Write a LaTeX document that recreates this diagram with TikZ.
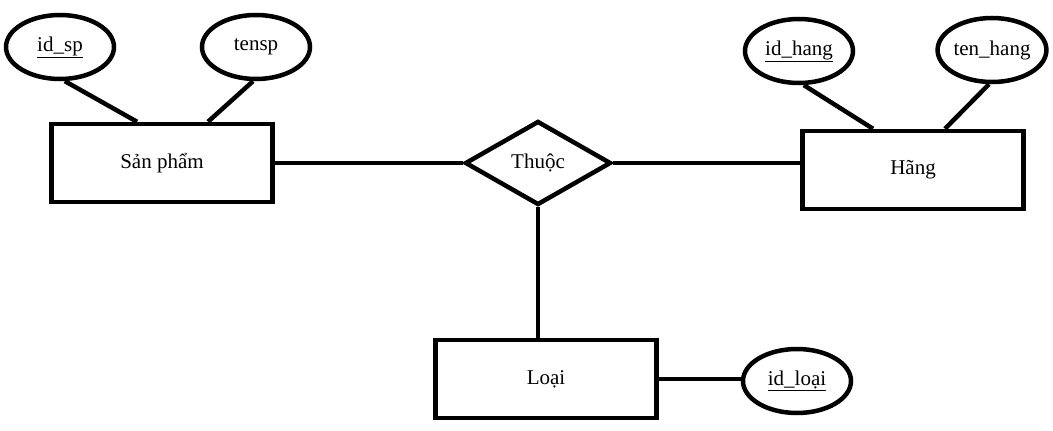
\documentclass[tikz,border=0pt]{standalone}
\usepackage{fontspec}
\setmainfont{Liberation Serif}
\usetikzlibrary{shapes.geometric}

\tikzset{
  entity/.style={draw, rectangle, line width=4.5pt, minimum width=221pt, minimum height=78pt, font=\fontsize{21}{25}\selectfont},
  attrib/.style={draw, ellipse, line width=4.5pt, minimum width=108pt, minimum height=64pt, inner sep=0pt, font=\fontsize{21}{25}\selectfont},
  relation/.style={draw, diamond, line width=4.5pt, aspect=1.74, minimum width=146pt, minimum height=84pt, inner sep=0pt, font=\fontsize{21}{25}\selectfont},
  link/.style={black, line width=4.5pt}
}

\begin{document}
\begin{tikzpicture}[x=1pt, y=-1pt]
                \useasboundingbox (0,0) rectangle (1053,431);
                % entities
                \node[entity] (SanPham) at (162,163) {Sản phẩm};
                \node[entity] (Hang) at (913,170) {Hãng};
                \node[entity] (Loai) at (546,379) {Loại};
                % relationship
                \node[relation] (Thuoc) at (538,163) {Thuộc};
                % attributes
                \node[attrib] (IdSp) at (60,47) {\underline{id\_sp}};
                \node[attrib] (TenSp) at (256,47) {tensp};
                \node[attrib] (IdHang) at (799,51) {\underline{id\_hang}};
                \node[attrib] (TenHang) at (992,50) {ten\_hang};
                \node[attrib] (IdLoai) at (797,381) {\underline{id\_loại}};
                % connectors
                \draw[link] (IdSp.-82) -- (SanPham.north -| 137,0);
                \draw[link] (TenSp.-95) -- (SanPham.north -| 208,0);
                \draw[link] (IdHang.-82) -- (Hang.north -| 873,0);
                \draw[link] (TenHang.-95) -- (Hang.north -| 945,0);
                \draw[link] (SanPham.east) -- (Thuoc.west);
                \draw[link] (Thuoc.east) -- (Thuoc.east -| Hang.west);
                \draw[link] (Thuoc.south) -- (Thuoc.south |- Loai.north);
                \draw[link] (Loai.east) -- (Loai.east -| IdLoai.west);
            \end{tikzpicture}
\end{document}
